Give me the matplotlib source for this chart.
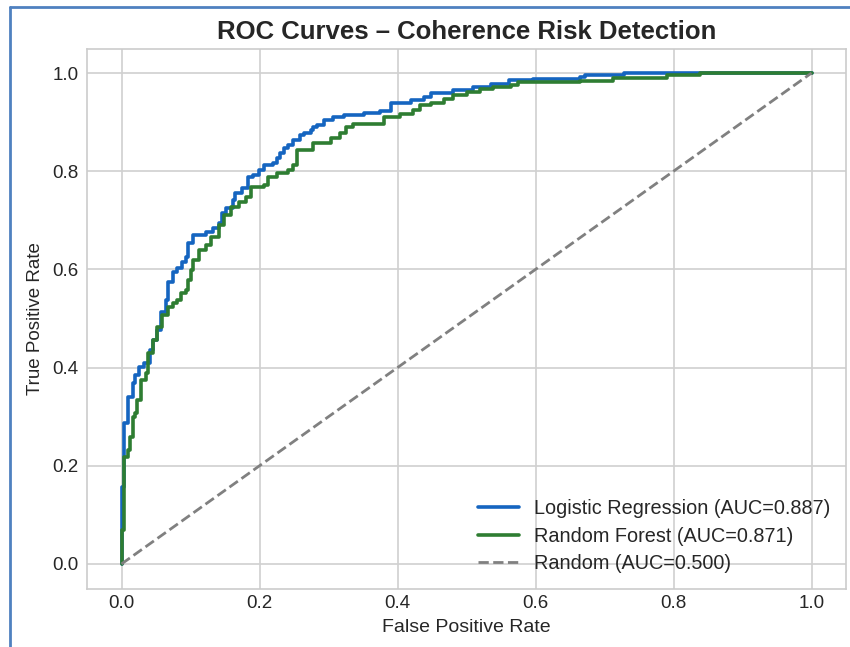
import matplotlib
matplotlib.use("Agg")
import matplotlib.pyplot as plt
from matplotlib.lines import Line2D

# ---- data ----
lr_fpr = [0.0, 0.0, 0.003, 0.004, 0.010, 0.016, 0.020, 0.025, 0.032, 0.042, 0.046, 0.052, 0.057,
          0.064, 0.068, 0.074, 0.081, 0.088, 0.093, 0.096, 0.103, 0.122, 0.132, 0.141, 0.146,
          0.151, 0.161, 0.165, 0.175, 0.183, 0.184, 0.191, 0.199, 0.206, 0.219, 0.226, 0.230,
          0.235, 0.241, 0.249, 0.259, 0.264, 0.274, 0.278, 0.284, 0.293, 0.307, 0.322, 0.351,
          0.375, 0.390, 0.419, 0.438, 0.448, 0.481, 0.510, 0.535, 0.561, 0.597, 0.665, 0.672,
          0.728, 1.0]
lr_tpr = [0.0, 0.157, 0.185, 0.287, 0.340, 0.369, 0.385, 0.401, 0.409, 0.436, 0.456, 0.477, 0.513,
          0.538, 0.574, 0.595, 0.603, 0.615, 0.625, 0.654, 0.670, 0.676, 0.684, 0.695, 0.715,
          0.725, 0.741, 0.756, 0.766, 0.776, 0.788, 0.792, 0.802, 0.813, 0.817, 0.827, 0.837,
          0.847, 0.853, 0.864, 0.874, 0.878, 0.884, 0.890, 0.894, 0.904, 0.910, 0.914, 0.919,
          0.923, 0.939, 0.945, 0.951, 0.959, 0.965, 0.971, 0.978, 0.986, 0.988, 0.992, 0.996,
          1.0, 1.0]

rf_fpr = [0.0, 0.0, 0.003, 0.009, 0.013, 0.016, 0.020, 0.023, 0.028, 0.035, 0.039, 0.046, 0.052,
          0.059, 0.067, 0.074, 0.081, 0.086, 0.093, 0.097, 0.100, 0.104, 0.112, 0.122, 0.129,
          0.141, 0.148, 0.158, 0.170, 0.180, 0.187, 0.206, 0.213, 0.226, 0.241, 0.249, 0.255,
          0.278, 0.303, 0.317, 0.325, 0.336, 0.380, 0.404, 0.423, 0.433, 0.448, 0.467, 0.481,
          0.501, 0.520, 0.539, 0.564, 0.574, 0.665, 0.713, 0.791, 0.839, 1.0]
rf_tpr = [0.0, 0.069, 0.218, 0.232, 0.259, 0.299, 0.308, 0.334, 0.375, 0.389, 0.430, 0.456, 0.483,
          0.507, 0.523, 0.532, 0.538, 0.552, 0.558, 0.578, 0.599, 0.619, 0.640, 0.650, 0.666,
          0.690, 0.711, 0.727, 0.737, 0.747, 0.768, 0.772, 0.788, 0.796, 0.802, 0.813, 0.843,
          0.857, 0.868, 0.878, 0.890, 0.896, 0.910, 0.916, 0.925, 0.935, 0.939, 0.947, 0.955,
          0.961, 0.967, 0.971, 0.976, 0.982, 0.984, 0.990, 0.996, 1.0, 1.0]

rand_x = [0.0, 1.0]
rand_y = [0.0, 1.0]

lr_label = "Logistic Regression (AUC=0.887)"
rf_label = "Random Forest (AUC=0.871)"
rand_label = "Random (AUC=0.500)"
title = "ROC Curves – Coherence Risk Detection"
xlabel = "False Positive Rate"
ylabel = "True Positive Rate"
ticks = [0.0, 0.2, 0.4, 0.6, 0.8, 1.0]

# ---- style ----
plt.style.use("seaborn-v0_8-whitegrid")
plt.rcParams["font.family"] = ["Liberation Sans", "DejaVu Sans"]

W, H = 850, 647
fig = plt.figure(figsize=(W / 100, H / 100), dpi=100)
ax = fig.add_axes([87 / W, 1 - 588.5 / H, (846 - 87) / W, (588.5 - 48.5) / H])

ax.plot(lr_fpr, lr_tpr, drawstyle="steps-post", color="#1565C0", lw=2.6, label=lr_label)
ax.plot(rf_fpr, rf_tpr, drawstyle="steps-post", color="#2E7D32", lw=2.6, label=rf_label)
ax.plot(rand_x, rand_y, "--", color="gray", lw=2, label=rand_label)

ax.set_xlim(-0.05, 1.05)
ax.set_ylim(-0.05, 1.05)
ax.set_xticks(ticks)
ax.set_yticks(ticks)
ax.set_xticklabels([f"{t:.1f}" for t in ticks])
ax.set_yticklabels([f"{t:.1f}" for t in ticks])
ax.tick_params(labelsize=13.5, colors="#262626")
ax.tick_params(axis="y", pad=6)
ax.tick_params(axis="x", pad=5)
ax.grid(True, color="#d0d0d0", lw=1.2)
for s in ax.spines.values():
    s.set_visible(True)
    s.set_color("#cccccc")
    s.set_linewidth(1.2)

ax.set_xlabel(xlabel, fontsize=14, color="#262626", labelpad=5)
ax.set_ylabel(ylabel, fontsize=13.5, color="#262626", labelpad=6)
ax.set_title(title, fontsize=18.5, fontweight="bold", color="#262626", pad=7)

ax.legend(loc="lower right", fontsize=14.3, frameon=False, handlelength=2.1,
          labelspacing=0.42, borderaxespad=0.38, handletextpad=0.75)

# screenshot frame (left and top edges)
fig.add_artist(Line2D([10 / W, 10 / W], [0, 1 - 7 / H], transform=fig.transFigure,
                      color="#4f81c0", lw=2))
fig.add_artist(Line2D([10 / W, 1], [1 - 7 / H, 1 - 7 / H], transform=fig.transFigure,
                      color="#4f81c0", lw=2))

fig.savefig("out.png", dpi=100, facecolor="white")
